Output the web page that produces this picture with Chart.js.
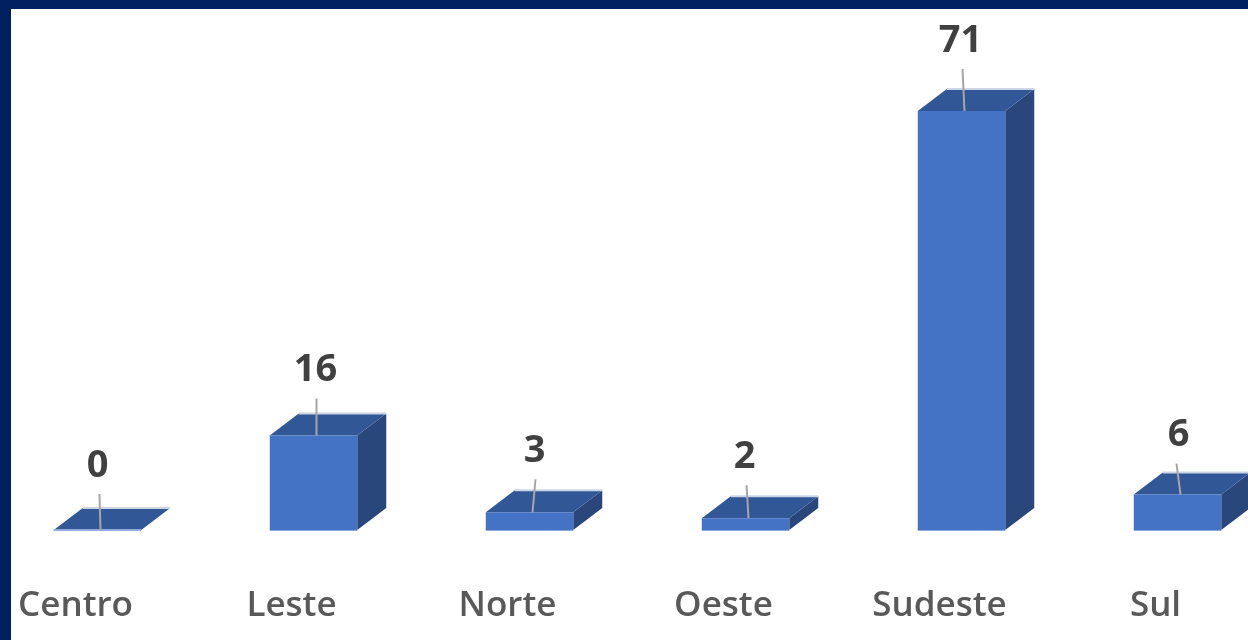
<!DOCTYPE html>
<html lang="en">
<head>
    <meta charset="UTF-8">
    <title>Regiões</title>
    <script src="https://cdn.jsdelivr.net/npm/chart.js"></script>
    <style>
        html, body { margin: 0; height: 100%; background: #fff; overflow: hidden; }
        #wrap { position: absolute; left: -20px; top: 0; width: 1320px; height: 640px; }
        #frameTop { position: absolute; left: 0; top: 0; width: 1248px; height: 9px; background: #002060; }
        #frameLeft { position: absolute; left: 0; top: 0; width: 11px; height: 640px; background: #002060; }
    </style>
</head>
<body>
    <div id="wrap"><canvas id="chart" width="1320" height="640"></canvas></div>
    <div id="frameTop"></div>
    <div id="frameLeft"></div>

    <script>
        const categories = ['Centro', 'Leste', 'Norte', 'Oeste', 'Sudeste', 'Sul'];
        const values = [0, 16, 3, 2, 71, 6];

        // hand placed data labels, px relative to the top of each bar
        const labelShiftX = [0, 2, 5, -1, -1, 1];
        const labelRise = [67, 68, 64, 64, 73, 62];
        const leaderTopShiftX = [-1, 0, 3, -2, -2, -4];

        const depthX = 29;
        const depthY = -22;

        const bars3d = {
            id: 'bars3d',
            // top and side faces go behind the front face drawn by the library
            beforeDatasetsDraw(chart) {
                const ctx = chart.ctx;
                chart.getDatasetMeta(0).data.forEach(bar => {
                    const left = bar.x - bar.width / 2;
                    const right = bar.x + bar.width / 2;
                    const top = bar.y;
                    const bottom = bar.base;

                    ctx.fillStyle = '#2A477C';
                    ctx.beginPath();
                    ctx.moveTo(right, top);
                    ctx.lineTo(right + depthX, top + depthY);
                    ctx.lineTo(right + depthX, bottom + depthY);
                    ctx.lineTo(right, bottom);
                    ctx.closePath();
                    ctx.fill();

                    ctx.fillStyle = '#325796';
                    ctx.beginPath();
                    ctx.moveTo(left, top);
                    ctx.lineTo(left + depthX, top + depthY);
                    ctx.lineTo(right + depthX, top + depthY);
                    ctx.lineTo(right, top);
                    ctx.closePath();
                    ctx.fill();

                    ctx.strokeStyle = '#CCD5E6';
                    ctx.lineWidth = 2;
                    ctx.beginPath();
                    ctx.moveTo(left + depthX, top + depthY);
                    ctx.lineTo(right + depthX, top + depthY);
                    ctx.stroke();

                    ctx.strokeStyle = '#8FAADC';
                    ctx.beginPath();
                    ctx.moveTo(left, bottom);
                    ctx.lineTo(right, bottom);
                    ctx.stroke();
                });
            },
            afterDatasetsDraw(chart) {
                const ctx = chart.ctx;
                ctx.textAlign = 'center';
                ctx.textBaseline = 'middle';
                ctx.font = '700 38px "Open Sans"';
                chart.getDatasetMeta(0).data.forEach((bar, i) => {
                    const labelX = bar.x + labelShiftX[i];
                    const labelY = bar.y - labelRise[i];

                    ctx.strokeStyle = '#A6A6A6';
                    ctx.lineWidth = 2;
                    ctx.beginPath();
                    ctx.moveTo(bar.x + leaderTopShiftX[i] + 3, labelY + 31);
                    ctx.lineTo(bar.x + 3, bar.y);
                    ctx.stroke();

                    ctx.fillStyle = '#404040';
                    ctx.fillText(String(values[i]), labelX, labelY + 3);
                });
            }
        };

        new Chart(document.getElementById('chart').getContext('2d'), {
            type: 'bar',
            data: {
                labels: categories,
                datasets: [{
                    data: values,
                    backgroundColor: '#4472C4',
                    barPercentage: 0.405,
                    categoryPercentage: 1
                }]
            },
            options: {
                responsive: false,
                animation: false,
                layout: { padding: { left: 9.5, right: 14.5, top: 0, bottom: 0 } },
                plugins: {
                    legend: { display: false },
                    tooltip: { enabled: false }
                },
                scales: {
                    x: {
                        grid: { display: false },
                        border: { display: false },
                        afterFit(scale) { scale.height = 110; },
                        ticks: {
                            color: '#595959',
                            font: { family: '"Open Sans"', size: 35, weight: '600' },
                            maxRotation: 0,
                            autoSkip: false,
                            labelOffset: -22,
                            padding: 47
                        }
                    },
                    y: { display: false, min: 0, max: 89.8 }
                }
            },
            plugins: [bars3d]
        });
    </script>
</body>
</html>
